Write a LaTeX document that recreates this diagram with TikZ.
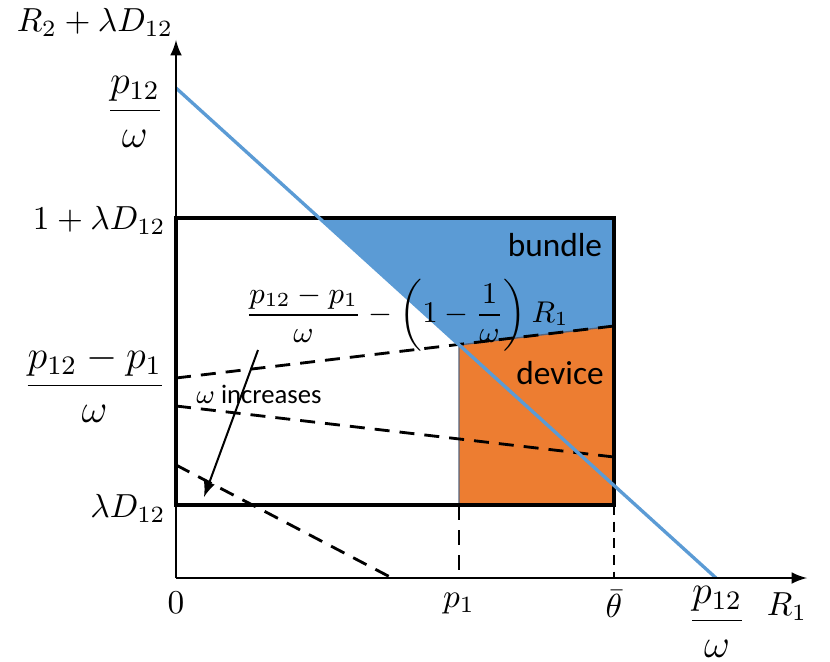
\documentclass[tikz,border=0pt]{standalone}
\usepackage{amsmath}
\usepackage{fontspec}
\newfontfamily\calibri{Carlito}
\usetikzlibrary{arrows}
\definecolor{bundleblue}{RGB}{91,155,213}
\definecolor{deviceorange}{RGB}{237,125,49}
\definecolor{edgegray}{RGB}{85,100,125}

\begin{document}
\begin{tikzpicture}[>=latex, x=0.3pt, y=-0.3pt]
                        \tikzstyle{every node} = [inner sep=0.5pt];
                        \tikzstyle{box} = [line width=1pt];
                        \tikzstyle{axis} = [->, line width=0.6pt];
                        \tikzstyle{guide} = [line width=0.85pt, dash pattern=on 4.5pt off 3pt];
                        \useasboundingbox (0,0) rectangle (830,661);
                        % corner points
                        \coordinate (o) at (176,578);
                        \coordinate (ytop) at (176,40);
                        \coordinate (xend) at (807,578);
                        \coordinate (a) at (176,88);
                        \coordinate (b) at (716,578);
                        \coordinate (tl) at (176,218);
                        \coordinate (tr) at (614,218);
                        \coordinate (bl) at (176,505);
                        \coordinate (br) at (614,505);
                        \coordinate (c) at (319,218);
                        \coordinate (k) at (459,345);
                        \coordinate (m) at (614,326);
                        \coordinate (p) at (459,505);
                        \coordinate (pt) at (459,578);
                        \coordinate (tt) at (614,578);
                        % dashed lines for omega
                        \coordinate (d1) at (176,378);
                        \coordinate (d2) at (176,406);
                        \coordinate (d2r) at (614,457);
                        \coordinate (d3) at (176,465);
                        \coordinate (d3r) at (392,578);
                        \coordinate (w0) at (258,350);
                        \coordinate (w1) at (204,497);
                        % regions
                        \fill[bundleblue] (c) -- (tr) -- (m) -- (k) -- cycle;
                        \filldraw[fill=deviceorange, draw=edgegray, line width=0.4pt] (k) -- (m) -- (br) -- (p) -- cycle;
                        \draw[box] (bl) -- (tl) -- (tr) -- (br) -- cycle;
                        \draw[guide] (d1) -- (m);
                        \draw[guide] (d2) -- (d2r);
                        \draw[guide] (d3) -- (d3r);
                        \draw[guide] (p) -- (pt);
                        \draw[dash pattern=on 3pt off 2pt, line width=0.4pt] (br) -- (tt);
                        \draw[bundleblue, line width=1pt] (a) -- (b);
                        \draw[axis] (o) -- (ytop);
                        \draw[axis] (o) -- (xend);
                        \draw[->, line width=0.6pt] (w0) -- (w1);
                        % labels
                        \node (ylab) at (95,22) {$R_2+\lambda D_{12}$};
                        \node[anchor=east] (yp12) at (166,112) {\large$\dfrac{p_{12}}{\omega}$};
                        \node[anchor=east] (y1) at (168,220) {$1+\lambda D_{12}$};
                        \node[anchor=east] (yp) at (168,384) {\large$\dfrac{p_{12}-p_1}{\omega}$};
                        \node[anchor=east] (yl) at (168,508) {$\lambda D_{12}$};
                        \node (x0) at (176,603) {$0$};
                        \node (xp1) at (459,604) {$p_1$};
                        \node (xth) at (614,604) {$\bar{\theta}$};
                        \node (xp12) at (717,622) {\large$\dfrac{p_{12}}{\omega}$};
                        \node (xlab) at (787,607) {$R_1$};
                        \node (bundle) at (555,245) {\calibri bundle};
                        \node (device) at (560,373) {\calibri device};
                        \node (winc) at (259,394) {\calibri\footnotesize $\omega$ increases};
                        \node (curve) at (407,315) {\small$\dfrac{p_{12}-p_1}{\omega}-\left(1-\dfrac{1}{\omega}\right)R_1$};
                    \end{tikzpicture}
\end{document}
